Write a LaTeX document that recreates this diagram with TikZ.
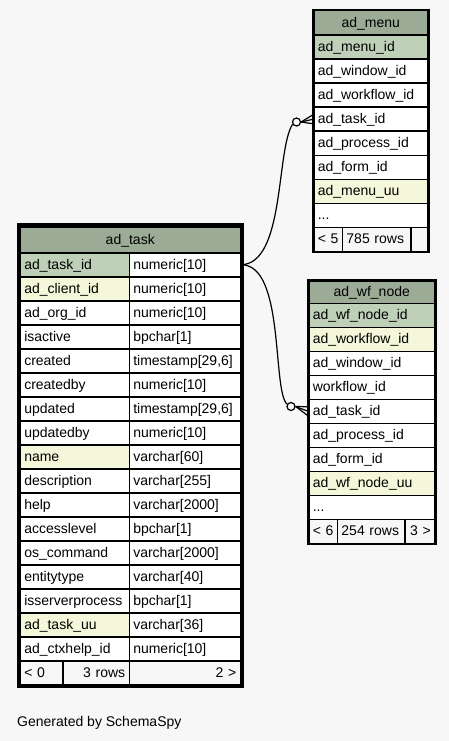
\documentclass[tikz,border=0pt]{standalone}
\usepackage{fontspec}
\setmainfont{Liberation Sans}
\usetikzlibrary{calc, fit}
\def\moreCols{...}
\definecolor{pageBack}{HTML}{F7F7F7}
\definecolor{headFill}{HTML}{9BAB96}
\definecolor{keyFill}{HTML}{BED1B8}
\definecolor{indexFill}{HTML}{F4F7DA}
\tikzset{
    CellText/.style={font=\fontsize{14}{16}\selectfont, text height=10pt, text depth=1pt},
    TableCell/.style={CellText, draw=black, line width=1.5pt, anchor=north west, inner xsep=4pt, inner ysep=0pt, minimum height=24pt, align=left},
    HeadCell/.style={TableCell, fill=headFill, align=center},
    FootCell/.style={TableCell, fill=pageBack},
    TableFrame/.style={draw=black, line width=1.2pt, inner sep=0.8pt},
    LinkLine/.style={line width=1.2pt},
    CrowDot/.style={circle, draw=black, fill=pageBack, line width=1.2pt, minimum size=8pt, inner sep=0pt},
    CrowFoot/.style={line width=1.2pt}
}

\begin{document}
\begin{tikzpicture}[x=1pt, y=-1pt]
    \path[fill=pageBack, use as bounding box] (0,0) rectangle (449,741);

    % 表 ad_task
    \node[HeadCell, text width=212pt, minimum height=26pt] (task-head) at (19.5, 226) {ad\_task};
    \foreach \colName/\colType/\colFill [count=\i from 0] in {ad\_task\_id/numeric[10]/keyFill,
        ad\_client\_id/numeric[10]/indexFill, ad\_org\_id/numeric[10]/white, isactive/bpchar[1]/white,
        created/{timestamp[29,6]}/white, createdby/numeric[10]/white, updated/{timestamp[29,6]}/white,
        updatedby/numeric[10]/white, name/varchar[60]/indexFill, description/varchar[255]/white,
        help/varchar[2000]/white, accesslevel/bpchar[1]/white, os\_command/varchar[2000]/white,
        entitytype/varchar[40]/white, isserverprocess/bpchar[1]/white, ad\_task\_uu/varchar[36]/indexFill,
        ad\_ctxhelp\_id/numeric[10]/white} {
        \pgfmathsetmacro{\rowTop}{252 + 24*\i}
        \node[TableCell, fill=\colFill, text width=101pt] (task-name-\i) at (19.5, \rowTop) {\colName};
        \node[TableCell, fill=white, text width=103pt] (task-type-\i) at (128.5, \rowTop) {\colType};
    }
    \node[FootCell, text width=34.5pt] (task-foot-1) at (19.5, 660) {< 0};
    \node[FootCell, text width=58.5pt, align=right] (task-foot-2) at (62, 660) {3 rows};
    \node[FootCell, text width=103pt, align=right] (task-foot-3) at (128.5, 660) {2 >};
    \node[TableFrame, line width=3pt, inner sep=1.2pt, fit=(task-head)(task-foot-3)] (task-frame) {};

    % 表 ad_menu
    \node[HeadCell, text width=106pt, minimum height=24.5pt] (menu-head) at (313, 10) {ad\_menu};
    \foreach \colName/\colFill [count=\i from 0] in {ad\_menu\_id/keyFill, ad\_window\_id/white,
        ad\_workflow\_id/white, ad\_task\_id/white, ad\_process\_id/white, ad\_form\_id/white,
        ad\_menu\_uu/indexFill, \moreCols/white} {
        \pgfmathsetmacro{\rowTop}{34.5 + 24*\i}
        \node[TableCell, fill=\colFill, text width=106pt] (menu-\i) at (313, \rowTop) {\colName};
    }
    \node[FootCell, text width=20.7pt] (menu-foot-1) at (313, 226.5) {< 5};
    \node[FootCell, text width=60.3pt] (menu-foot-2) at (341.7, 226.5) {785 rows};
    \node[FootCell, text width=9pt] (menu-foot-3) at (410, 226.5) {};
    \node[TableFrame, fit=(menu-head)(menu-foot-3)] (menu-frame) {};

    % 表 ad_wf_node
    \node[HeadCell, text width=118pt, minimum height=22.5pt] (wf-head) at (308, 280) {ad\_wf\_node};
    \foreach \colName/\colFill [count=\i from 0] in {ad\_wf\_node\_id/keyFill, ad\_workflow\_id/indexFill,
        ad\_window\_id/white, workflow\_id/white, ad\_task\_id/white, ad\_process\_id/white,
        ad\_form\_id/white, ad\_wf\_node\_uu/indexFill, \moreCols/white} {
        \pgfmathsetmacro{\rowTop}{302.5 + 24*\i}
        \node[TableCell, fill=\colFill, text width=118pt] (wf-\i) at (308, \rowTop) {\colName};
    }
    \node[FootCell, text width=20.7pt] (wf-foot-1) at (308, 518.5) {< 6};
    \node[FootCell, text width=59.6pt] (wf-foot-2) at (336.7, 518.5) {254 rows};
    \node[FootCell, text width=21.7pt, align=right] (wf-foot-3) at (404.3, 518.5) {3 >};
    \node[TableFrame, fit=(wf-head)(wf-foot-3)] (wf-frame) {};

    % 外键连线
    \node[CrowDot] (menu-dot) at (296.5, 122) {};
    \node[CrowDot] (wf-dot) at (291, 406.5) {};
    \draw[LinkLine] (task-type-0.east) .. controls (285, 264) and (276, 150) .. (menu-dot.210);
    \draw[LinkLine] (task-type-0.east) .. controls (285, 264) and (272, 390) .. (wf-dot.150);
    \foreach \dy in {-4.5, 0, 4.5} {
        \draw[CrowFoot] (menu-dot.east) -- ($(menu-3.west) + (0, \dy)$);
        \draw[CrowFoot] (wf-dot.east) -- ($(wf-4.west) + (0, \dy)$);
    }

    \node[CellText, anchor=base west, inner sep=0pt] (gen-note) at (17, 726.5) {Generated by SchemaSpy};
\end{tikzpicture}
\end{document}
